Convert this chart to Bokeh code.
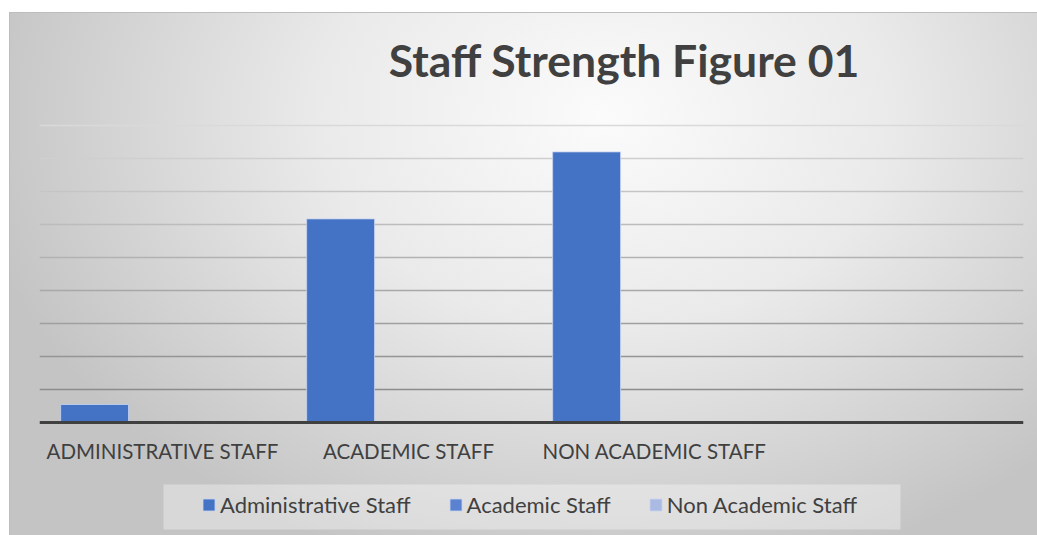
from bokeh.plotting import figure
from bokeh.models import (FactorRange, Range1d, Legend, LegendItem, Label, Grid,
                          FixedTicker, BoxAnnotation, ColumnDataSource, Span)
from bokeh.transform import dodge
from bokeh.core.properties import value
from bokeh.embed import file_html
from bokeh.resources import INLINE

# ---- data ----
categories = ["ADMINISTRATIVE STAFF", "ACADEMIC STAFF", "NON ACADEMIC STAFF", " "]
series_names = ["Administrative Staff", "Academic Staff", "Non Academic Staff"]
administrative = [5.45, 61.7, 82.0, 0]
academic = [0, 0, 0, 0]
non_academic = [0, 0, 0, 0]
y_ticks = [10, 20, 30, 40, 50, 60, 70, 80, 90]
title_text = "Staff Strength Figure 01"

colors = ["#4472C4", "#5B82D0", "#ABBAE2"]
FONT = "Lato"
TXT = "#404040"

# ---- layout constants (pixels within the figure) ----
W, H = 1028, 523
FRAME_L, FRAME_R = 30, 1014
ZERO_PX = 410          # pixel row of value 0, from figure top
PX_PER_UNIT = 3.3
y_end = ZERO_PX / PX_PER_UNIT
y_start = -(H - ZERO_PX) / PX_PER_UNIT

src = ColumnDataSource(dict(cat=categories, a=administrative, b=academic, c=non_academic))

p = figure(x_range=FactorRange(*categories), y_range=Range1d(y_start, y_end),
           width=W, height=H, output_backend="svg", toolbar_location=None,
           min_border_left=FRAME_L, min_border_right=W - FRAME_R,
           min_border_top=0, min_border_bottom=0)
p.margin = (12, 0, 0, 9)
p.background_fill_color = None
p.border_fill_color = None
p.outline_line_color = None
p.styles = {
    "background": "radial-gradient(ellipse 62% 90% at 58% 20%, #fbfbfb 0%, #eaeaea 45%, #c4c4c4 100%)",
    "box-shadow": "inset 1px 1px 0 #bdbdbd",
}
p.xaxis.visible = False
p.yaxis.visible = False
p.xgrid.visible = False
p.ygrid.visible = False

# grid lines with gradient colour (lighter at top)
n = len(y_ticks)
for i, t in enumerate(y_ticks):
    frac = i / (n - 1)
    g = int(140 + (217 - 140) * frac)
    c = "#%02x%02x%02x" % (g, g, g)
    p.add_layout(Grid(dimension=1, ticker=FixedTicker(ticks=[t]), grid_line_color=c,
                      grid_line_width=1.6, level="underlay"))

w = 0.276
renderers = []
for col, off, colr in zip(["a", "b", "c"], [-w, 0, w], colors):
    r = p.vbar(x=dodge("cat", off, range=p.x_range), top=col, width=w, source=src,
               fill_color=colr, line_color="#c9d5f0", line_width=1, line_alpha=0.8)
    renderers.append(r)

# baseline (category axis line)
p.add_layout(Span(location=0, dimension="width", line_color="#404040", line_width=3))

# category labels
p.text(x="cat", y=-(438 - ZERO_PX) / PX_PER_UNIT, text="cat", source=src,
       text_font=value(FONT), text_font_size="20.5px", text_color=TXT,
       text_align="center", text_baseline="middle")

# title
p.add_layout(Label(x=585, y=(ZERO_PX - 47) / PX_PER_UNIT, x_units="screen", text=title_text,
                   text_font=FONT, text_font_style="bold", text_font_size="44.5px",
                   text_color=TXT, text_align="center", text_baseline="alphabetic"))

# legend box
p.add_layout(BoxAnnotation(left=154, right=891, top=472, bottom=517,
                           left_units="canvas", right_units="canvas",
                           top_units="canvas", bottom_units="canvas",
                           fill_color="white", fill_alpha=0.35, line_color=None,
                           level="underlay"))

legend = Legend(items=[LegendItem(label=s, renderers=[r]) for s, r in zip(series_names, renderers)],
                orientation="horizontal", location=(162, 17),
                glyph_width=15, glyph_height=15, label_standoff=4, spacing=37,
                padding=0, margin=0, background_fill_alpha=0, border_line_color=None,
                label_text_font=FONT, label_text_font_size="22px", label_text_color=TXT)
p.add_layout(legend)

open("out.html", "w").write(file_html(p, INLINE))
